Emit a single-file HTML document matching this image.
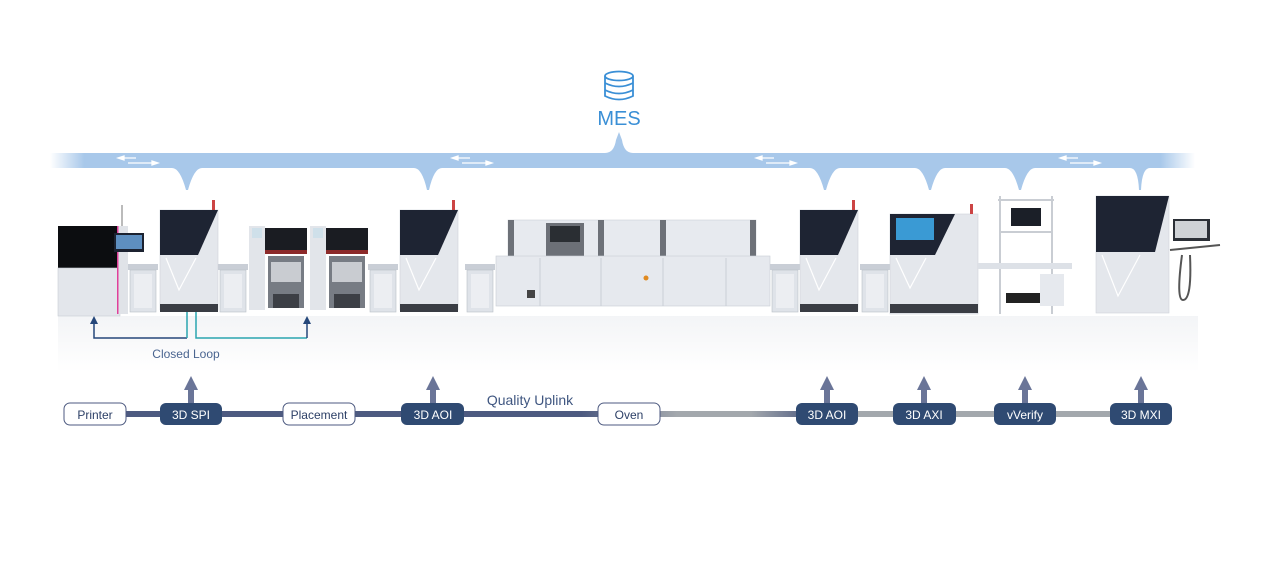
<!DOCTYPE html>
<html><head><meta charset="utf-8"><style>
html,body{margin:0;padding:0;background:#fff;width:1280px;height:561px;overflow:hidden}
svg{display:block}
text{font-family:"Liberation Sans",sans-serif}
</style></head><body>
<svg width="1280" height="561" viewBox="0 0 1280 561" xmlns="http://www.w3.org/2000/svg">
<defs>
<linearGradient id="band" x1="0" x2="1" y1="0" y2="0">
<stop offset="0" stop-color="#a8c8ea" stop-opacity="0"/>
<stop offset="0.03" stop-color="#a8c8ea"/>
<stop offset="0.97" stop-color="#a8c8ea"/>
<stop offset="1" stop-color="#a8c8ea" stop-opacity="0"/>
</linearGradient>
<linearGradient id="refl" x1="0" x2="0" y1="0" y2="1">
<stop offset="0" stop-color="#eef0f3"/>
<stop offset="1" stop-color="#ffffff"/>
</linearGradient>
<linearGradient id="line" x1="0" x2="1" y1="0" y2="0">
<stop offset="0" stop-color="#4d5a80"/>
<stop offset="0.46" stop-color="#4d5a80"/>
<stop offset="0.55" stop-color="#a3a8ad"/>
<stop offset="0.62" stop-color="#a3a8ad"/>
<stop offset="0.68" stop-color="#4d5a80"/>
<stop offset="0.72" stop-color="#a3a8ad"/>
<stop offset="1" stop-color="#a3a8ad"/>
</linearGradient>
<g id="insp">
<rect x="0" y="0" width="58" height="100" fill="#e4e7ec" stroke="#cfd3d9" stroke-width="0.6"/>
<polygon points="0,0 58,0 38,45 0,45" fill="#1e2433"/>
<polyline points="6,48 19,80 36,48" fill="none" stroke="#fff" stroke-width="1.2"/>
<rect x="0" y="94" width="58" height="8" fill="#3a3d44"/>
<rect x="52" y="-10" width="3" height="10" fill="#c44"/>
</g>
<g id="conv">
<rect x="0" y="0" width="30" height="6" fill="#c9ced6"/>
<rect x="2" y="6" width="26" height="42" fill="#dfe3e9" stroke="#b8bec6" stroke-width="0.6"/>
<rect x="6" y="10" width="18" height="34" fill="#eceef2"/>
</g>
</defs>

<g fill="none" stroke="#3a8fd6" stroke-width="1.8">
<ellipse cx="619" cy="76" rx="14" ry="4.5"/>
<path d="M605 76 V96 Q619 103 633 96 V76"/>
<path d="M605 83 Q619 90 633 83"/>
<path d="M605 90 Q619 97 633 90"/>
</g>
<text x="619" y="125" font-size="20" fill="#3a8fd6" text-anchor="middle">MES</text>

<path d="M50 153 H605 Q614 153 616 140 L619 132 L622 140 Q624 153 633 153 H1195 V168
 H1150 Q1142 168 1141 190 H1139 Q1138 168 1130 168
 H1035 Q1027 168 1021 190 H1019 Q1013 168 1005 168
 H945 Q937 168 931 190 H929 Q923 168 915 168
 H840 Q832 168 826 190 H824 Q818 168 810 168
 H442 Q434 168 429 190 H427 Q422 168 414 168
 H202 Q194 168 188 190 H186 Q180 168 172 168 H50 Z" fill="url(#band)"/>
<g stroke="#fff" stroke-width="1.3" fill="#fff">
<g transform="translate(118,156)"><path d="M4 2 H18 M10 7 H36"/><path d="M0 2 L6 0 V4 Z M40 7 L34 5 V9 Z"/></g>
<g transform="translate(452,156)"><path d="M4 2 H18 M10 7 H36"/><path d="M0 2 L6 0 V4 Z M40 7 L34 5 V9 Z"/></g>
<g transform="translate(756,156)"><path d="M4 2 H18 M10 7 H36"/><path d="M0 2 L6 0 V4 Z M40 7 L34 5 V9 Z"/></g>
<g transform="translate(1060,156)"><path d="M4 2 H18 M10 7 H36"/><path d="M0 2 L6 0 V4 Z M40 7 L34 5 V9 Z"/></g>
</g>

<rect x="58" y="316" width="1140" height="56" fill="url(#refl)" opacity="0.7"/>

<rect x="58" y="226" width="60" height="42" fill="#0c0d10"/>
<rect x="58" y="268" width="62" height="48" fill="#e3e6eb" stroke="#c8cdd4" stroke-width="0.6"/>
<rect x="118" y="226" width="10" height="88" fill="#e0e3e8"/>
<rect x="117" y="226" width="1.5" height="88" fill="#e0409a"/>
<rect x="114" y="233" width="30" height="19" fill="#1c2230"/>
<rect x="116" y="235" width="26" height="14" fill="#5e8fc0"/>
<rect x="121" y="205" width="2" height="21" fill="#bbb"/>
<use href="#conv" x="128" y="264"/>
<use href="#insp" x="160" y="210"/>
<use href="#conv" x="218" y="264"/>
<g id="place">
<rect x="249" y="226" width="16" height="84" fill="#e2e5ea"/>
<rect x="252" y="228" width="10" height="10" fill="#cfe0ea"/>
<rect x="265" y="228" width="42" height="22" fill="#1a1c22"/>
<rect x="265" y="250" width="42" height="4" fill="#8c2a2a"/>
<rect x="268" y="256" width="36" height="52" fill="#777c84"/>
<rect x="271" y="262" width="30" height="20" fill="#c9ccd1"/>
<rect x="273" y="294" width="26" height="14" fill="#3c3f45"/>
</g>
<use href="#place" x="61"/>
<use href="#conv" x="368" y="264"/>
<use href="#insp" x="400" y="210"/>
<use href="#conv" x="465" y="264"/>
<rect x="508" y="220" width="248" height="38" fill="#e7eaef" stroke="#ccd1d8" stroke-width="0.6"/>
<rect x="508" y="220" width="6" height="38" fill="#6d7178"/>
<rect x="598" y="220" width="6" height="38" fill="#6d7178"/>
<rect x="660" y="220" width="6" height="38" fill="#6d7178"/>
<rect x="750" y="220" width="6" height="38" fill="#6d7178"/>
<rect x="546" y="223" width="38" height="37" fill="#6c7077"/>
<rect x="550" y="226" width="30" height="16" fill="#2a2e33"/>
<rect x="496" y="256" width="274" height="50" fill="#e6e9ee" stroke="#c9ced5" stroke-width="0.6"/>
<path d="M540 258 V306 M601 258 V306 M663 258 V306 M726 258 V306" stroke="#c4c9d0" stroke-width="0.8"/>
<rect x="527" y="290" width="8" height="8" fill="#444"/>
<circle cx="646" cy="278" r="2.5" fill="#e08a20"/>
<use href="#conv" x="770" y="264"/>
<use href="#insp" x="800" y="210"/>
<use href="#conv" x="860" y="264"/>
<rect x="890" y="214" width="88" height="100" fill="#e4e7ec" stroke="#cfd3d9" stroke-width="0.6"/>
<polygon points="890,214 955,214 935,255 890,255" fill="#1e2433"/>
<rect x="896" y="218" width="38" height="22" fill="#3a9ad4"/>
<polyline points="896,258 910,288 926,258" fill="none" stroke="#fff" stroke-width="1.2"/>
<rect x="890" y="304" width="88" height="9" fill="#3a3d44"/>
<rect x="970" y="204" width="3" height="10" fill="#c44"/>
<path d="M1000 196 V314 M1052 196 V314 M998 200 H1054 M1000 232 H1052" stroke="#c9cdd3" stroke-width="2"/>
<rect x="1011" y="208" width="30" height="18" fill="#1b1f28"/>
<rect x="978" y="263" width="94" height="6" fill="#dde1e7"/>
<rect x="1006" y="293" width="34" height="10" fill="#222"/>
<rect x="1040" y="274" width="24" height="32" fill="#e6e9ee"/>
<rect x="1096" y="196" width="73" height="117" fill="#e4e7ec" stroke="#cfd3d9" stroke-width="0.6"/>
<polygon points="1096,196 1169,196 1155,252 1096,252" fill="#1e2433"/>
<polyline points="1102,255 1118,296 1140,255" fill="none" stroke="#fff" stroke-width="1.2"/>
<rect x="1173" y="219" width="37" height="22" fill="#2b2f36"/>
<rect x="1175" y="221" width="32" height="17" fill="#cfd2d6"/>
<path d="M1170 250 L1220 245 M1182 255 Q1176 300 1183 300 Q1192 300 1190 255" stroke="#555" stroke-width="2" fill="none"/>

<path d="M94 322 V338 H187" stroke="#25477a" stroke-width="1.5" fill="none"/>
<path d="M187 312 V338 M196 312 V338 H307" stroke="#2aa5b0" stroke-width="1.5" fill="none"/>
<path d="M307 322 V338" stroke="#25477a" stroke-width="1.5"/>
<path d="M90 324 L94 316 L98 324 Z M303 324 L307 316 L311 324 Z" fill="#25477a"/>
<text x="186" y="358" font-size="12" fill="#4a6590" text-anchor="middle">Closed Loop</text>

<rect x="94" y="411" width="1060" height="6" fill="url(#line)"/>
<text x="530" y="405" font-size="14" fill="#3f5680" text-anchor="middle">Quality Uplink</text>
<g fill="#6a7598">
<path d="M188 390 H194 V403 H188 Z M184 390 L191 376 L198 390 Z"/>
<path d="M430 390 H436 V403 H430 Z M426 390 L433 376 L440 390 Z"/>
<path d="M824 390 H830 V403 H824 Z M820 390 L827 376 L834 390 Z"/>
<path d="M921 390 H927 V403 H921 Z M917 390 L924 376 L931 390 Z"/>
<path d="M1022 390 H1028 V403 H1022 Z M1018 390 L1025 376 L1032 390 Z"/>
<path d="M1138 390 H1144 V403 H1138 Z M1134 390 L1141 376 L1148 390 Z"/>
</g>
<g font-size="12" text-anchor="middle">
<rect x="64" y="403" width="62" height="22" rx="6" fill="#fff" stroke="#4d5a80" stroke-width="1"/>
<text x="95" y="419" fill="#2c3f66">Printer</text>
<rect x="160" y="403" width="62" height="22" rx="6" fill="#2f4a72"/>
<text x="191" y="419" fill="#fff">3D SPI</text>
<rect x="283" y="403" width="72" height="22" rx="6" fill="#fff" stroke="#4d5a80" stroke-width="1"/>
<text x="319" y="419" fill="#2c3f66">Placement</text>
<rect x="401" y="403" width="63" height="22" rx="6" fill="#2f4a72"/>
<text x="433" y="419" fill="#fff">3D AOI</text>
<rect x="598" y="403" width="62" height="22" rx="6" fill="#fff" stroke="#4d5a80" stroke-width="1"/>
<text x="629" y="419" fill="#2c3f66">Oven</text>
<rect x="796" y="403" width="62" height="22" rx="6" fill="#2f4a72"/>
<text x="827" y="419" fill="#fff">3D AOI</text>
<rect x="893" y="403" width="63" height="22" rx="6" fill="#2f4a72"/>
<text x="924" y="419" fill="#fff">3D AXI</text>
<rect x="994" y="403" width="62" height="22" rx="6" fill="#2f4a72"/>
<text x="1025" y="419" fill="#fff">vVerify</text>
<rect x="1110" y="403" width="62" height="22" rx="6" fill="#2f4a72"/>
<text x="1141" y="419" fill="#fff">3D MXI</text>
</g>
</svg>
</body></html>
